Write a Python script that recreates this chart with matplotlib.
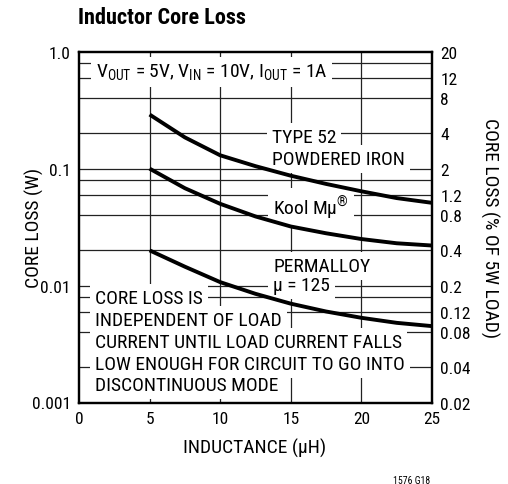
import matplotlib
matplotlib.use("Agg")
import matplotlib.pyplot as plt

plt.rcParams["font.family"] = ["Roboto Condensed", "DejaVu Sans"]
plt.rcParams["mathtext.fontset"] = "custom"
plt.rcParams["mathtext.rm"] = "Roboto Condensed"

# inductance (uH) and core loss (W)
inductance = [5, 7.5, 10, 12.5, 15, 17.5, 20, 22.5, 25]
loss_type52 = [0.29, 0.185, 0.13, 0.105, 0.087, 0.074, 0.064, 0.056, 0.051]
loss_koolmu = [0.10, 0.068, 0.050, 0.039, 0.032, 0.028, 0.025, 0.023, 0.022]
loss_permalloy = [0.020, 0.0145, 0.0107, 0.0085, 0.0070, 0.0060, 0.0053, 0.0048, 0.0045]

x_ticks = [0, 5, 10, 15, 20, 25]
left_ticks = [0.001, 0.01, 0.1, 1.0]
left_labels = ["0.001", "0.01", "0.1", "1.0"]
right_ticks = [0.02, 0.04, 0.08, 0.12, 0.2, 0.4, 0.8, 1.2, 2, 4, 8, 12, 20]
right_labels = ["0.02", "0.04", "0.08", "0.12", "0.2", "0.4", "0.8", "1.2", "2", "4", "8", "12", "20"]
grid_levels = [0.8, 0.6, 0.4, 0.2, 0.1, 0.08, 0.06, 0.04, 0.02, 0.01, 0.008, 0.006, 0.004, 0.002]

W, H = 508, 485
fig = plt.figure(figsize=(W / 100, H / 100), dpi=100)
ax = fig.add_axes([79 / W, 1 - 403.5 / H, (432 - 79) / W, (403.5 - 52.7) / H])

ax.set_xlim(0, 25)
ax.set_yscale("log")
ax.set_ylim(0.001, 1.0)
ax.minorticks_off()

grid_kw = dict(color="#222222", lw=0.9, zorder=1)
for g in grid_levels:
    ax.axhline(g, **grid_kw)
for v in x_ticks[1:-1]:
    ax.axvline(v, **grid_kw)

for series in (loss_type52, loss_koolmu, loss_permalloy):
    ax.plot(inductance, series, color="black", lw=2.8, zorder=4, solid_capstyle="butt")

ax.set_xticks(x_ticks)
ax.set_yticks(left_ticks)
ax.set_yticklabels(left_labels)
ax.tick_params(length=0, labelsize=12.5, pad=6)
for s in ax.spines.values():
    s.set_linewidth(1.6)

ax2 = ax.twinx()
ax2.set_yscale("log")
ax2.set_ylim(0.02, 20)
ax2.minorticks_off()
ax2.set_yticks(right_ticks)
ax2.set_yticklabels(right_labels)
ax2.tick_params(length=0, labelsize=12.5, pad=6)
for s in ax2.spines.values():
    s.set_linewidth(1.6)

box = dict(boxstyle="square,pad=0.25", facecolor="white", edgecolor="none")


def label(x, y, s):
    # white patch behind the words hides the grid, words drawn on top of everything
    ax.text(x, y, s, fontsize=14, ha="left", va="center", color="white", bbox=box, zorder=3)
    ax.text(x, y, s, fontsize=14, ha="left", va="center", color="black", zorder=5)


label(1.2, 0.67, r"V$_{\mathregular{OUT}}$ = 5V, V$_{\mathregular{IN}}$ = 10V, I$_{\mathregular{OUT}}$ = 1A")
label(13.67, 0.186, "TYPE 52")
label(13.67, 0.121, "POWDERED IRON")
label(13.74, 0.047, r"Kool Mμ$^{\mathregular{®}}$")
label(13.74, 0.0147, "PERMALLOY")
label(13.74, 0.0101, "μ = 125")

note_lines = ["CORE LOSS IS", "INDEPENDENT OF LOAD", "CURRENT UNTIL LOAD CURRENT FALLS",
              "LOW ENOUGH FOR CIRCUIT TO GO INTO", "DISCONTINUOUS MODE"]
note_y = [0.00782, 0.00507, 0.00329, 0.00213, 0.00141]
for line, yy in zip(note_lines, note_y):
    label(1.13, yy, line)

ax.set_xlabel("INDUCTANCE (μH)", fontsize=14)
ax.xaxis.set_label_coords(0.4986, -0.101)
ax.set_ylabel("CORE LOSS (W)", fontsize=14, va="center")
ax.yaxis.set_label_coords(-0.125, 0.5)
ax2.set_ylabel("CORE LOSS (% OF 5W LOAD)", fontsize=14, rotation=270, va="center")
ax2.yaxis.set_label_coords(1.164, 0.5)

fig.text(78 / W, 1 - 18 / H, "Inductor Core Loss", fontsize=16, fontweight="bold", va="center", ha="left")
fig.text(393 / W, 1 - 481 / H, "1576 G18", fontsize=7, va="center", ha="left")

fig.savefig("out.png", dpi=100)
